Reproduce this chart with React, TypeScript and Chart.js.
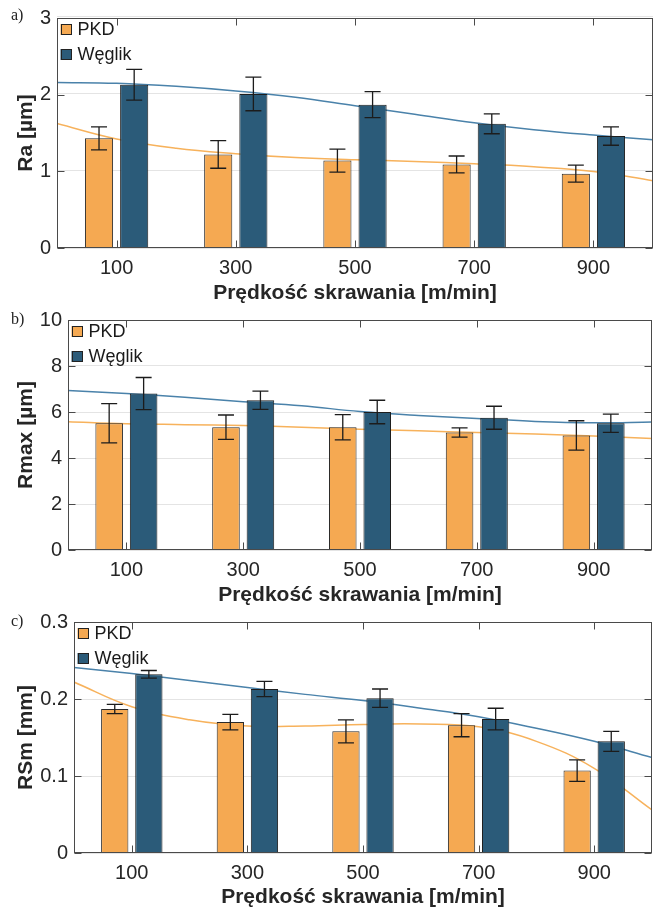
import React, { useEffect, useRef } from 'react';
import { Chart, registerables } from 'chart.js';

Chart.register(...registerables);

// ---------------- data ----------------
const speeds = ['100', '300', '500', '700', '900'];
const trendX = [0, 100, 200, 300, 400, 500, 600, 700, 800, 900, 1000];

const raPKD = [1.43, 1.22, 1.14, 1.09, 0.97];
const raPKDErr = [0.15, 0.18, 0.15, 0.11, 0.11];
const raWeglik = [2.13, 2.01, 1.87, 1.62, 1.46];
const raWeglikErr = [0.2, 0.22, 0.17, 0.13, 0.12];
const raPKDTrend = [1.61, 1.41, 1.29, 1.22, 1.17, 1.14, 1.12, 1.09, 1.05, 0.99, 0.87];
const raWeglikTrend = [2.14, 2.13, 2.09, 2.03, 1.95, 1.84, 1.73, 1.62, 1.53, 1.46, 1.4];

const rmaxPKD = [5.51, 5.34, 5.34, 5.11, 4.98];
const rmaxPKDErr = [0.85, 0.53, 0.55, 0.2, 0.64];
const rmaxWeglik = [6.8, 6.51, 6.0, 5.75, 5.51];
const rmaxWeglikErr = [0.7, 0.4, 0.51, 0.5, 0.4];
const rmaxPKDTrend = [5.58, 5.49, 5.45, 5.41, 5.34, 5.25, 5.18, 5.11, 5.04, 4.96, 4.85];
const rmaxWeglikTrend = [6.93, 6.8, 6.64, 6.45, 6.27, 6.02, 5.85, 5.72, 5.59, 5.53, 5.56];

const rsmPKD = [0.187, 0.17, 0.158, 0.166, 0.107];
const rsmPKDErr = [0.006, 0.01, 0.015, 0.015, 0.014];
const rsmWeglik = [0.232, 0.213, 0.201, 0.174, 0.145];
const rsmWeglikErr = [0.005, 0.01, 0.012, 0.014, 0.013];
const rsmPKDTrend = [0.222, 0.19, 0.173, 0.165, 0.165, 0.167, 0.1675, 0.164, 0.145, 0.11, 0.056];
const rsmWeglikTrend = [0.241, 0.233, 0.224, 0.215, 0.206, 0.198, 0.188, 0.177, 0.162, 0.145, 0.124];

const seriesNames = ['PKD', 'Węglik'];
const xTitle = 'Prędkość skrawania [m/min]';

// ---------------- styles ----------------
const FONT = '"Liberation Sans", Arial, Helvetica, sans-serif';
const ORANGE = '#F5A952';
const BLUE = '#2B5B79';
const ORANGE_LINE = '#F7B25C';
const BLUE_LINE = '#4A82AA';
const TEXT = '#262626';
const FRAME = '#4a4a4a';
const GRID = '#e4e4e4';
const CANVAS_W = 654;
const CANVAS_H = 310;

Chart.defaults.font.family = FONT;

type PanelCfg = {
  letter: string;
  top: number;
  plotTop: number;
  plotBottom: number;
  plotLeft: number;
  plotRight: number;
  yTitle: string;
  yMax: number;
  yStep: number;
  pkd: number[];
  pkdErr: number[];
  weg: number[];
  wegErr: number[];
  pkdTrend: number[];
  wegTrend: number[];
};

const panels: PanelCfg[] = [
  {
    letter: 'a)', top: 0, plotTop: 16, plotBottom: 248, plotLeft: 57, plotRight: 653,
    yTitle: 'Ra [µm]', yMax: 3, yStep: 1,
    pkd: raPKD, pkdErr: raPKDErr, weg: raWeglik, wegErr: raWeglikErr,
    pkdTrend: raPKDTrend, wegTrend: raWeglikTrend,
  },
  {
    letter: 'b)', top: 302, plotTop: 18, plotBottom: 248, plotLeft: 68, plotRight: 652,
    yTitle: 'Rmax [µm]', yMax: 10, yStep: 2,
    pkd: rmaxPKD, pkdErr: rmaxPKDErr, weg: rmaxWeglik, wegErr: rmaxWeglikErr,
    pkdTrend: rmaxPKDTrend, wegTrend: rmaxWeglikTrend,
  },
  {
    letter: 'c)', top: 604, plotTop: 18, plotBottom: 249, plotLeft: 74, plotRight: 652,
    yTitle: 'RSm [mm]', yMax: 0.3, yStep: 0.1,
    pkd: rsmPKD, pkdErr: rsmPKDErr, weg: rsmWeglik, wegErr: rsmWeglikErr,
    pkdTrend: rsmPKDTrend, wegTrend: rsmWeglikTrend,
  },
];

// ---------------- plugins ----------------
const errorBarsPlugin = {
  id: 'errorBars',
  afterDatasetsDraw(chart: any) {
    const { ctx } = chart;
    const y = chart.scales.y;
    ctx.save();
    ctx.strokeStyle = '#1c1c1c';
    ctx.lineWidth = 1.3;
    chart.data.datasets.forEach((ds: any, di: number) => {
      if (!ds.errors) return;
      const meta = chart.getDatasetMeta(di);
      meta.data.forEach((bar: any, i: number) => {
        const v = ds.data[i];
        const e = ds.errors[i];
        const x = bar.x;
        const yt = y.getPixelForValue(v + e);
        const yb = y.getPixelForValue(v - e);
        const cap = 8;
        ctx.beginPath();
        ctx.moveTo(x, yt);
        ctx.lineTo(x, yb);
        ctx.moveTo(x - cap, yt);
        ctx.lineTo(x + cap, yt);
        ctx.moveTo(x - cap, yb);
        ctx.lineTo(x + cap, yb);
        ctx.stroke();
      });
    });
    ctx.restore();
  },
};

const framePlugin = {
  id: 'frameTicks',
  afterDraw(chart: any) {
    const { ctx, chartArea } = chart;
    const l = Math.round(chartArea.left) + 0.5;
    const r = Math.round(chartArea.right) - 0.5;
    const t = Math.round(chartArea.top) + 0.5;
    const b = Math.round(chartArea.bottom) - 0.5;
    const tl = 7;
    ctx.save();
    ctx.strokeStyle = FRAME;
    ctx.lineWidth = 1;
    ctx.strokeRect(l, t, r - l, b - t);
    ctx.beginPath();
    const xs = chart.scales.x;
    speeds.forEach((_, i) => {
      const px = Math.round(xs.getPixelForValue(i)) + 0.5;
      ctx.moveTo(px, b);
      ctx.lineTo(px, b - tl);
      ctx.moveTo(px, t);
      ctx.lineTo(px, t + tl);
    });
    const ys = chart.scales.y;
    ys.ticks.forEach((tk: any) => {
      const py = Math.round(ys.getPixelForValue(tk.value)) + 0.5;
      ctx.moveTo(l, py);
      ctx.lineTo(l + tl, py);
      ctx.moveTo(r, py);
      ctx.lineTo(r - tl, py);
    });
    ctx.stroke();

    // legend inside the axes
    ctx.font = `18px ${FONT}`;
    ctx.textBaseline = 'middle';
    ctx.textAlign = 'left';
    chart.data.datasets.forEach((d: any, i: number) => {
      const cy = chartArea.top + 11.5 + i * 25;
      const bx = chartArea.left + 3.5;
      ctx.fillStyle = d.backgroundColor;
      ctx.fillRect(bx, cy - 5.5, 11, 11);
      ctx.strokeStyle = '#222';
      ctx.lineWidth = 1;
      ctx.strokeRect(Math.round(bx) + 0.5, Math.round(cy - 5.5) + 0.5, 10, 10);
      ctx.fillStyle = '#1a1a1a';
      ctx.fillText(d.label, bx + 17, cy + 1);
    });
    ctx.restore();
  },
};

// shared axis layout so both layers have the same chart area
function xAxis(cfg: PanelCfg, visible: boolean, extra: any) {
  const c = visible ? TEXT : 'rgba(0,0,0,0)';
  return {
    ...extra,
    grid: { display: false, drawTicks: false },
    border: { display: false },
    ticks: { display: visible, color: c, font: { size: 20 }, padding: 8, maxRotation: 0 },
    title: {
      display: true,
      text: xTitle,
      color: c,
      font: { size: 21, weight: 'bold' },
      padding: { top: 0, bottom: 4 },
    },
    afterFit: (s: any) => {
      s.height = CANVAS_H - cfg.plotBottom;
    },
  };
}

function yAxis(cfg: PanelCfg, visible: boolean) {
  const c = visible ? TEXT : 'rgba(0,0,0,0)';
  return {
    min: 0,
    max: cfg.yMax,
    ticks: { display: visible, stepSize: cfg.yStep, color: c, font: { size: 20 }, padding: 6 },
    grid: { display: !visible, color: GRID, drawTicks: false, lineWidth: 1 },
    border: { display: false },
    title: {
      display: true,
      text: cfg.yTitle,
      color: c,
      font: { size: 21, weight: 'bold' },
      padding: { top: 13.5, bottom: 0 },
    },
    afterFit: (s: any) => {
      s.width = cfg.plotLeft;
    },
  };
}

// ---------------- panel ----------------
function Panel({ cfg }: { cfg: PanelCfg }) {
  const barRef = useRef<HTMLCanvasElement | null>(null);
  const lineRef = useRef<HTMLCanvasElement | null>(null);

  useEffect(() => {
    if (!barRef.current || !lineRef.current) return;
    const layout = {
      padding: { top: cfg.plotTop, right: CANVAS_W - cfg.plotRight, left: 0, bottom: 0 },
    };
    const plugins = { legend: { display: false }, tooltip: { enabled: false } };

    // bottom layer: grid + fitted trend curves
    const lineChart = new Chart(lineRef.current, {
      type: 'line',
      data: {
        datasets: [
          {
            label: seriesNames[0],
            data: trendX.map((x, i) => ({ x, y: cfg.pkdTrend[i] })),
            borderColor: ORANGE_LINE,
            borderWidth: 1.5,
            pointRadius: 0,
            tension: 0.4,
          },
          {
            label: seriesNames[1],
            data: trendX.map((x, i) => ({ x, y: cfg.wegTrend[i] })),
            borderColor: BLUE_LINE,
            borderWidth: 1.5,
            pointRadius: 0,
            tension: 0.4,
          },
        ],
      },
      options: {
        animation: false,
        responsive: false,
        devicePixelRatio: 1,
        layout,
        plugins,
        scales: {
          x: xAxis(cfg, false, { type: 'linear', min: 0, max: 1000, offset: false }),
          y: yAxis(cfg, false),
        } as any,
      },
    } as any);

    // top layer: bars, error bars, axes, legend
    const barChart = new Chart(barRef.current, {
      type: 'bar',
      data: {
        labels: speeds,
        datasets: [
          {
            label: seriesNames[0],
            data: cfg.pkd,
            errors: cfg.pkdErr,
            backgroundColor: ORANGE,
            borderColor: '#2a2a2a',
            borderWidth: 1,
            barPercentage: 0.8,
            categoryPercentage: 0.59,
          } as any,
          {
            label: seriesNames[1],
            data: cfg.weg,
            errors: cfg.wegErr,
            backgroundColor: BLUE,
            borderColor: '#1e1e1e',
            borderWidth: 1,
            barPercentage: 0.8,
            categoryPercentage: 0.59,
          } as any,
        ],
      },
      options: {
        animation: false,
        responsive: false,
        devicePixelRatio: 1,
        layout,
        plugins,
        scales: {
          x: xAxis(cfg, true, { type: 'category', offset: true }),
          y: yAxis(cfg, true),
        } as any,
      },
      plugins: [errorBarsPlugin, framePlugin],
    } as any);

    return () => {
      barChart.destroy();
      lineChart.destroy();
    };
  }, []);

  const style: React.CSSProperties = {
    position: 'absolute',
    left: 0,
    top: cfg.top,
    width: CANVAS_W,
    height: CANVAS_H,
  };

  return (
    <>
      <canvas ref={lineRef} width={CANVAS_W} height={CANVAS_H} style={style} />
      <canvas ref={barRef} width={CANVAS_W} height={CANVAS_H} style={style} />
      <div
        style={{
          position: 'absolute',
          left: 11,
          top: cfg.top + cfg.plotTop - 10,
          fontFamily: '"Liberation Serif", "DejaVu Serif", serif',
          fontSize: 16,
          lineHeight: '18px',
          color: '#222',
        }}
      >
        {cfg.letter}
      </div>
    </>
  );
}

export default function App() {
  useEffect(() => {
    document.body.style.margin = '0';
  }, []);
  return (
    <div
      style={{
        position: 'relative',
        width: 654,
        height: 908,
        overflow: 'hidden',
        background: '#fff',
      }}
    >
      {panels.map((p) => (
        <Panel key={p.letter} cfg={p} />
      ))}
    </div>
  );
}
